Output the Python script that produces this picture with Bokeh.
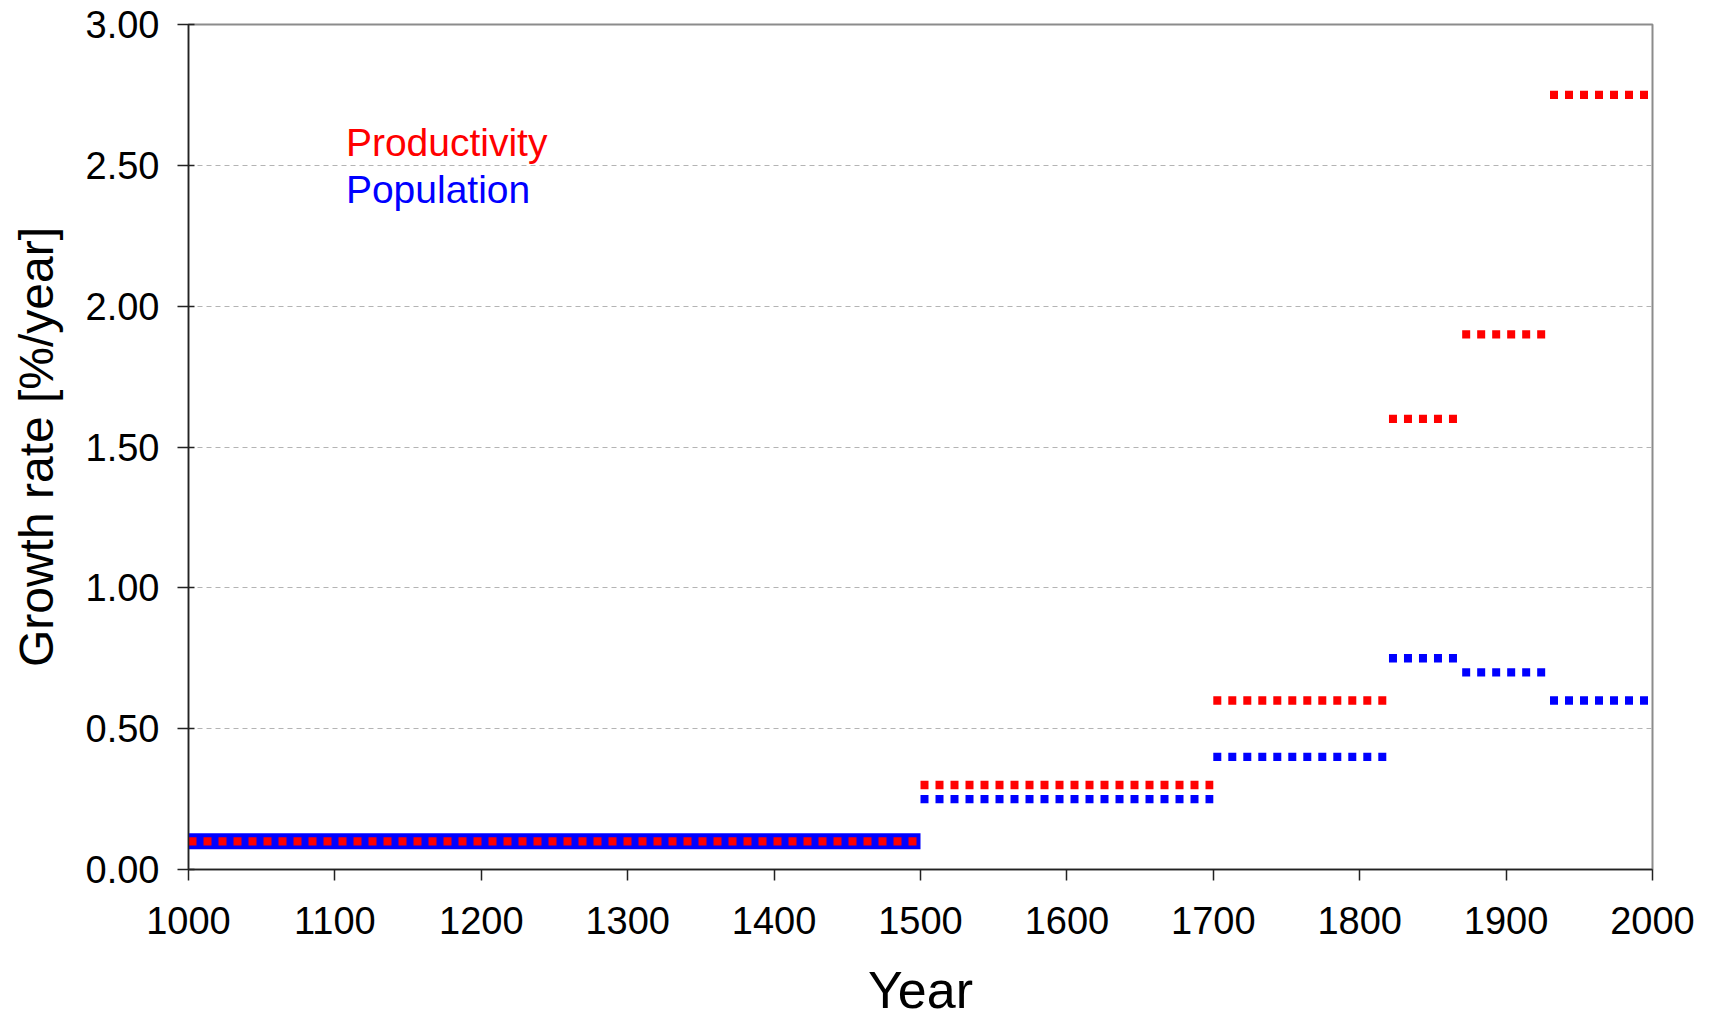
from bokeh.plotting import figure
from bokeh.models import Range1d, FixedTicker, NumeralTickFormatter, Label, ColumnDataSource
from bokeh.embed import file_html
from bokeh.resources import INLINE

# Data: growth-rate periods
period_start = [1000, 1500, 1700, 1820, 1870, 1930]
period_end = [1500, 1700, 1820, 1870, 1930, 2000]
productivity = [0.10, 0.30, 0.60, 1.60, 1.90, 2.75]
population = [0.10, 0.25, 0.40, 0.75, 0.70, 0.60]
x_ticks = [1000, 1100, 1200, 1300, 1400, 1500, 1600, 1700, 1800, 1900, 2000]
y_ticks = [0.0, 0.5, 1.0, 1.5, 2.0, 2.5, 3.0]

FONT = "Liberation Sans"
RED = "#FF0000"
BLUE = "#0000FF"

p = figure(width=1703, height=1021, output_backend="svg", toolbar_location=None,
           x_range=Range1d(1000, 2000), y_range=Range1d(0, 3),
           min_border_left=188, min_border_right=51, min_border_top=24, min_border_bottom=152)

p.outline_line_color = "#8c8c8c"
p.outline_line_width = 2
p.background_fill_color = "white"
p.border_fill_color = "white"

# Axes
for ax in (p.xaxis[0], p.yaxis[0]):
    ax.axis_line_color = "#222222"
    ax.axis_line_width = 1.5
    ax.major_tick_line_color = "#222222"
    ax.major_tick_line_width = 1.5
    ax.minor_tick_line_color = None
    ax.major_label_text_font = FONT
    ax.major_label_text_font_size = "38px"
    ax.major_label_text_color = "black"
    ax.axis_label_text_font = FONT
    ax.axis_label_text_font_style = "normal"
    ax.axis_label_text_color = "black"

p.xaxis.ticker = FixedTicker(ticks=x_ticks)
p.xaxis.major_tick_out = 11
p.xaxis.major_tick_in = 0
p.xaxis.major_label_standoff = 26
p.xaxis.axis_label = "Year"
p.xaxis.axis_label_text_font_size = "52px"
p.xaxis.axis_label_standoff = 24

p.yaxis.ticker = FixedTicker(ticks=y_ticks)
p.yaxis.formatter = NumeralTickFormatter(format="0.00")
p.yaxis.major_tick_out = 11
p.yaxis.major_tick_in = 6
p.yaxis.major_label_standoff = 18
p.yaxis.axis_label = "Growth rate [%/year]"
p.yaxis.axis_label_text_font_size = "48px"
p.yaxis.axis_label_standoff = 20

p.xgrid.grid_line_color = None
p.ygrid.grid_line_color = "#b4b4b4"
p.ygrid.grid_line_dash = "5 4"
p.ygrid.grid_line_width = 1.2

src = ColumnDataSource(dict(x0=period_start, x1=period_end, prod=productivity, pop=population))
early = ColumnDataSource(dict(x0=period_start[:1], x1=period_end[:1], pop=population[:1]))

# Solid blue band for the first period (as in the reference)
p.segment(x0="x0", y0="pop", x1="x1", y1="pop", source=early,
          line_color=BLUE, line_width=16, line_cap="butt")
# Dotted series
p.segment(x0="x0", y0="pop", x1="x1", y1="pop", source=src,
          line_color=BLUE, line_width=8.3, line_dash="8 7", line_cap="butt")
p.segment(x0="x0", y0="prod", x1="x1", y1="prod", source=src,
          line_color=RED, line_width=8.3, line_dash="8 7", line_cap="butt")

# Legend texts
p.add_layout(Label(x=1107.5, y=2.581, text="Productivity", text_color=RED,
                   text_font=FONT, text_font_size="39px", text_baseline="alphabetic"))
p.add_layout(Label(x=1107.5, y=2.415, text="Population", text_color=BLUE,
                   text_font=FONT, text_font_size="39px", text_baseline="alphabetic"))

open("out.html", "w").write(file_html(p, INLINE))
